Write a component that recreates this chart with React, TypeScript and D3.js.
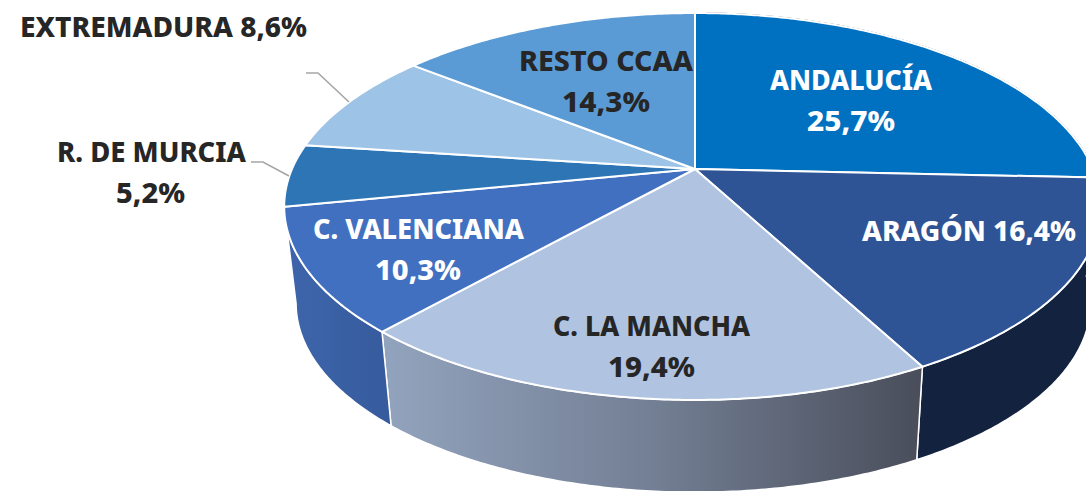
import React from "react";
import * as d3 from "d3";

const categories = ["ANDALUCÍA", "ARAGÓN", "C. LA MANCHA", "C. VALENCIANA", "R. DE MURCIA", "EXTREMADURA", "RESTO CCAA"];
const shares = [25.7, 16.4, 19.4, 10.3, 5.2, 8.6, 14.3];
const faceColors = ["#0070c0", "#2f5496", "#b0c4e2", "#4270c0", "#2e75b6", "#9dc3e6", "#5b9bd5"];
const sideFills = ["#13233f", "#13233f", "url(#sideMancha)", "url(#sideValencia)", "#1c4a75", "#5f7d99", "#3a6388"];
const sideStrokes = ["#13233f", "#fff", "#fff", "#fff"];
const sideOrder = [1, 2, 3, 0];
const labelInk = ["#fff", "#fff", "#262626", "#fff", "#262626", "#262626", "#262626"];

// line layout per category: [x0, x1, baseline] for each text line
const labelLayout: [number, number, number][][] = [
  [[770, 932, 90], [807, 895, 131]],
  [[862, 1076, 241]],
  [[553, 750, 336], [608, 695, 377]],
  [[313, 524, 239], [375, 461, 280]],
  [[57, 246, 162], [116, 185, 203]],
  [[20, 307, 37]],
  [[519, 693, 71], [562, 650, 112]],
];
const leaders: [number, number][][] = [
  [[306, 73], [318, 73], [349, 102]],
  [[251, 162], [263, 162], [289, 176]],
];

const W = 1086, H = 491;
const cx = 695, cy = 169, ky = 186.2, persp = 0.1938;
const kxLeft = 403, kxRight = 398;
const sideDrop = 98, sideScale = 0.975, sideScaleLeft = 0.971;

const project = (a: number, r = 1): [number, number] => {
  const x = r * Math.sin(a), y = -r * Math.cos(a);
  const w = 1 - persp * y;
  return [(x < 0 ? kxLeft : kxRight) * x / w, ky * y / w];
};
const topPt = (a: number, r = 1): [number, number] => {
  const [x, y] = project(a, r);
  return [cx + x, cy + y];
};
const botPt = (a: number): [number, number] => {
  const [x, y] = project(a);
  return [cx + x * (x < 0 ? sideScaleLeft : sideScale), cy + sideDrop + y * sideScale];
};
const samples = (a0: number, a1: number) => {
  const n = Math.max(2, Math.ceil((a1 - a0) / 0.01));
  return d3.range(n + 1).map((i) => a0 + ((a1 - a0) * i) / n);
};

export default function App() {
  const pie = d3.pie<number>().sort(null).startAngle(0).endAngle(2 * Math.PI);
  const arcs = pie(shares);
  const line = d3.line();
  const pct = (v: number) => v.toFixed(1).replace(".", ",") + "%";

  return (
    <svg width={W} height={H} viewBox={`0 0 ${W} ${H}`} style={{ position: "absolute", left: 0, top: 0, background: "#fff" }}>
      <defs>
        <linearGradient id="sideMancha" gradientUnits="userSpaceOnUse" x1={385} x2={920} y1={0} y2={0}>
          <stop offset="0" stopColor="#92a3bd" />
          <stop offset="0.5" stopColor="#737f94" />
          <stop offset="1" stopColor="#4a4e5b" />
        </linearGradient>
        <linearGradient id="sideValencia" gradientUnits="userSpaceOnUse" x1={288} x2={390} y1={0} y2={0}>
          <stop offset="0" stopColor="#3e65ab" />
          <stop offset="1" stopColor="#365b9d" />
        </linearGradient>
      </defs>

      {sideOrder.map((i) => {
        const d = arcs[i];
        return (
          <path
            key={"side" + i}
            d={line([...samples(d.startAngle, d.endAngle).map((a) => topPt(a)), ...samples(d.startAngle, d.endAngle).reverse().map(botPt)]) + "Z"}
            fill={sideFills[i]}
            stroke={sideStrokes[i]}
            strokeWidth={1.5}
            strokeLinejoin="round"
          />
        );
      })}

      {arcs.map((d, i) => (
        <path
          key={"face" + i}
          d={line([[cx, cy], ...samples(d.startAngle, d.endAngle).map((a) => topPt(a))]) + "Z"}
          fill={faceColors[i]}
          stroke="#fff"
          strokeWidth={2}
          strokeLinejoin="round"
        />
      ))}

      {leaders.map((pts, i) => (
        <path key={"lead" + i} d={line(pts) || ""} fill="none" stroke="#a6a6a6" strokeWidth={1.6} />
      ))}

      {categories.map((c, i) => {
        const lines = labelLayout[i].length === 2 ? [c, pct(shares[i])] : [`${c} ${pct(shares[i])}`];
        return lines.map((t, j) => {
          const [x0, x1, y] = labelLayout[i][j];
          return (
            <text
              key={c + j}
              x={x0}
              y={y}
              textLength={x1 - x0}
              lengthAdjust="spacingAndGlyphs"
              fontFamily="'Noto Sans', sans-serif"
              fontWeight={800}
              fontSize={28.5}
              fill={labelInk[i]}
            >
              {t}
            </text>
          );
        });
      })}
    </svg>
  );
}
